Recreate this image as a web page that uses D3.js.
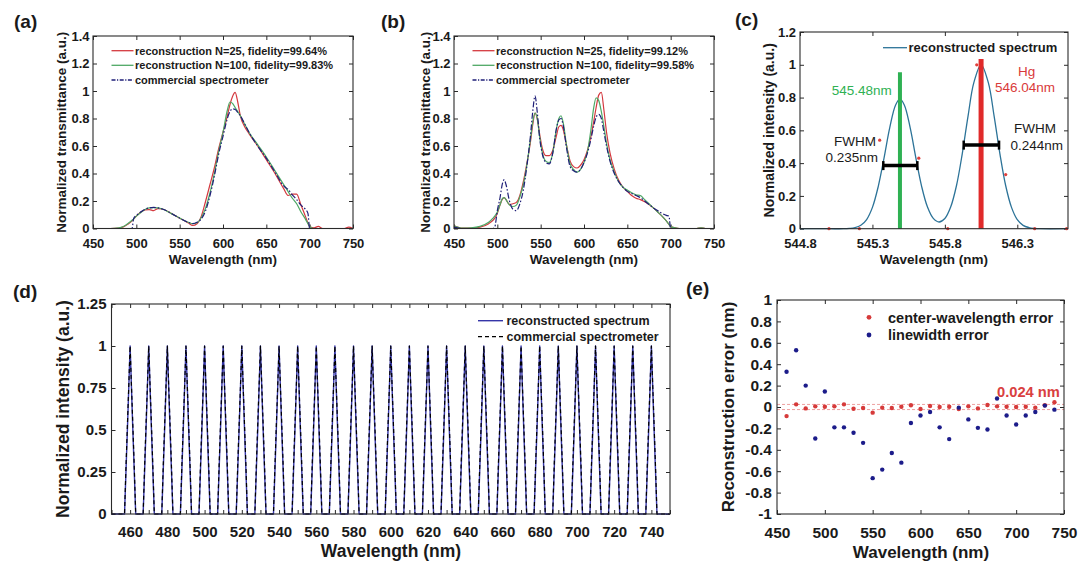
<!DOCTYPE html>
<html><head><meta charset="utf-8">
<script src="https://cdn.jsdelivr.net/npm/d3@7"></script>
<style>
html,body{margin:0;padding:0;background:#fff;}
svg{display:block;}
</style></head><body>
<script>
// ---------------- DATA ----------------
// Panel (a)
const aWave = [450,470,480,485,490,495,497,500,505,510,515,520,525,530,540,550,560,565,570,575,580,585,590,595,600,605,608,611,614,617,620,625,630,640,650,660,670,675,680,685,690,695,698,700,705,710,715,740,745,750];
const aRecon25 = [0,0,0.003,0.012,0.03,0.055,0.07,0.09,0.118,0.135,0.138,0.13,0.145,0.142,0.11,0.075,0.04,0.022,0.035,0.09,0.2,0.32,0.44,0.58,0.7,0.82,0.9,0.96,0.99,0.92,0.82,0.74,0.69,0.6,0.5,0.4,0.29,0.24,0.25,0.25,0.17,0.09,0.04,0.015,0.005,0.015,0,0,0.01,0];
const aRecon100 = [0,0,0.005,0.015,0.035,0.06,0.07,0.09,0.115,0.138,0.15,0.152,0.15,0.142,0.11,0.076,0.045,0.035,0.042,0.08,0.15,0.26,0.4,0.56,0.7,0.86,0.92,0.91,0.88,0.85,0.82,0.76,0.7,0.61,0.52,0.42,0.32,0.27,0.22,0.18,0.12,0.07,0.035,0.015,0,0,0,0,0,0];
const aComm = [0,0,0,0,0,0,0.075,0.095,0.12,0.14,0.15,0.153,0.15,0.142,0.112,0.075,0.045,0.036,0.045,0.07,0.13,0.24,0.38,0.54,0.67,0.8,0.85,0.87,0.865,0.845,0.82,0.76,0.7,0.6,0.51,0.41,0.31,0.285,0.245,0.21,0.17,0.14,0.11,0,0,0,0,0,0,0];
const aLegend = ["reconstruction N=25, fidelity=99.64%","reconstruction N=100, fidelity=99.83%","commercial spectrometer"];

// Panel (b)
const bWave = [450,460,470,480,490,495,497,500,503,506,508,510,514,518,522,526,530,534,538,541,543.5,546,549,552,556,560,564,568,571,573.5,576,580,584,588,592,596,600,604,608,611,614,617,620,623,626,630,635,640,645,650,655,660,665,670,675,680,685,690,695,698,700,705,710,730,735,740,750];
const bRecon25 = [0.02,0.003,0.003,0.01,0.035,0.06,0.075,0.11,0.17,0.215,0.225,0.21,0.175,0.18,0.19,0.24,0.34,0.47,0.62,0.76,0.84,0.8,0.68,0.58,0.53,0.53,0.57,0.67,0.74,0.75,0.72,0.6,0.49,0.45,0.44,0.46,0.5,0.57,0.67,0.77,0.88,0.97,0.99,0.86,0.7,0.55,0.43,0.35,0.3,0.27,0.24,0.22,0.21,0.195,0.175,0.15,0.12,0.09,0.055,0.03,0.015,0.005,0,0,0.005,0,0];
const bRecon100 = [0.02,0.003,0.005,0.015,0.045,0.075,0.09,0.12,0.17,0.22,0.225,0.21,0.17,0.16,0.17,0.23,0.32,0.46,0.64,0.78,0.84,0.8,0.66,0.55,0.49,0.48,0.55,0.72,0.8,0.82,0.77,0.6,0.47,0.43,0.41,0.43,0.48,0.56,0.72,0.87,0.95,0.93,0.85,0.74,0.62,0.5,0.41,0.34,0.3,0.28,0.26,0.245,0.24,0.21,0.18,0.15,0.12,0.09,0.055,0.03,0.015,0.005,0,0,0.005,0,0];
const bComm = [0.01,0,0,0,0,0,0.01,0.13,0.22,0.33,0.355,0.32,0.2,0.14,0.13,0.18,0.28,0.45,0.66,0.86,0.965,0.85,0.65,0.54,0.48,0.47,0.55,0.72,0.79,0.8,0.75,0.58,0.45,0.42,0.41,0.43,0.48,0.55,0.65,0.74,0.81,0.83,0.8,0.7,0.6,0.49,0.4,0.34,0.3,0.27,0.255,0.24,0.225,0.2,0.175,0.15,0.13,0.11,0.095,0.09,0,0,0,0,0,0,0];
const bLegend = ["reconstruction N=25, fidelity=99.12%","reconstruction N=100, fidelity=99.58%","commercial spectrometer"];

// Panel (c)
const cWave = [544.8,545.0,545.1,545.14,545.18,545.22,545.26,545.3,545.34,545.38,545.42,545.46,545.49,545.52,545.56,545.6,545.64,545.68,545.72,545.76,545.8,545.84,545.88,545.92,545.96,546.0,546.05,546.1,546.14,546.18,546.22,546.26,546.3,546.34,546.38,546.42,546.46,546.65];
const cCurve = [0,0,0,0.002,0.007,0.021,0.056,0.13,0.257,0.431,0.618,0.755,0.79,0.755,0.618,0.431,0.257,0.132,0.063,0.041,0.062,0.132,0.262,0.457,0.687,0.891,1.0,0.891,0.687,0.457,0.262,0.13,0.055,0.02,0.007,0.002,0,0];
const cDotWave = [545.0,545.21,545.35,545.62,545.82,546.02,546.22,546.42,546.64];
const cDotVal  = [0,0,0.54,0.43,0,1.0,0.33,0,0];
const cLineWave = [545.49,546.05];
const cLineTop = [0.955,1.035];
const cFwhmFrom = [545.375,545.93];
const cFwhmTo = [545.61,546.174];
const cFwhmLevel = [0.385,0.51];
const cLabels = ["545.48nm","Hg","546.04nm","FWHM","0.235nm","FWHM","0.244nm"];

// Panel (d)
const dCenters = [460,470,480,490,500,510,520,530,540,550,560,570,580,590,600,610,620,630,640,650,660,670,680,690,700,710,720,730,740];
const dOffsets = [-3,-2.2,-1.4,-0.7,0,0.7,1.4,2.2,3];
const dRecon = [0,0.26,0.52,0.76,1,0.76,0.52,0.26,0];
const dComm  = [0,0.29,0.55,0.77,1,0.77,0.55,0.29,0];

// Panel (e)
const eWave = [460,470,480,490,500,510,520,530,540,550,560,570,580,590,600,610,620,630,640,650,660,670,680,690,700,710,720,730,740];
const eCenterErr = [-0.085,0.025,-0.013,0.006,0.003,0.006,0.025,-0.016,-0.01,-0.053,-0.006,-0.01,0.003,0.016,-0.019,0.01,0,0.003,-0.019,0.006,-0.013,0.019,0.006,0.003,0,0.003,-0.006,0.016,0.044];
const eWidthErr = [0.33,0.53,0.2,-0.295,0.145,-0.19,-0.19,-0.24,-0.335,-0.665,-0.585,-0.43,-0.52,-0.15,-0.08,-0.047,-0.19,-0.3,-0.006,-0.116,-0.195,-0.21,0.08,-0.08,-0.163,-0.08,-0.047,0.013,-0.025];
const eThreshold = [0.024,-0.024];

// ticks
const xTicks50 = [450,500,550,600,650,700,750];
const yTicksAB = [0,0.2,0.4,0.6,0.8,1,1.2,1.4];
const cXTicks = [544.8,545.3,545.8,546.3];
const cYTicks = [0,0.2,0.4,0.6,0.8,1,1.2];
const dXTicks = [450,460,470,480,490,500,510,520,530,540,550,560,570,580,590,600,610,620,630,640,650,660,670,680,690,700,710,720,730,740,750];
const dXLabels = [460,480,500,520,540,560,580,600,620,640,660,680,700,720,740];
const dYTicks = [0,0.25,0.5,0.75,1,1.25];
const eYTicks = [-1,-0.8,-0.6,-0.4,-0.2,0,0.2,0.4,0.6,0.8,1];

// ---------------- DRAWING ----------------
const FONT = '"Liberation Sans", Arial, Helvetica, sans-serif';
const FR = "#2a2a2a";
const RED = "#d4393f", GREEN = "#4ea865", NAVY = "#1f1f78";
const svg = d3.select("body").append("svg").attr("width",1080).attr("height",564).style("font-family",FONT);
svg.append("rect").attr("width",1080).attr("height",564).attr("fill","#fff");

const fmt = d => String(+d.toFixed(3));

function txt(x,y,s,o={}){
  const t = svg.append("text").attr("x",x).attr("y",y).text(s)
    .attr("font-size",o.fs||14).attr("font-weight",o.fw||"bold")
    .attr("fill",o.fill||"#1a1a1a").attr("text-anchor",o.anchor||"start")
    .style("font-family",FONT);
  if(o.rot) t.attr("transform",`rotate(-90,${x},${y})`);
  return t;
}

function panel(p){
  const x = d3.scaleLinear().domain(p.xd).range([p.L,p.R]);
  const y = d3.scaleLinear().domain(p.yd).range([p.B,p.T]);
  const g = svg.append("g");
  const tl = 4;
  const xl = p.xl || p.xt;
  g.append("g").attr("transform",`translate(0,${p.B})`)
    .call(d3.axisBottom(x).tickValues(p.xt).tickSizeInner(-tl).tickSizeOuter(0).tickPadding(p.xpad)
      .tickFormat(d => xl.includes(d) ? fmt(d) : ""));
  g.append("g").attr("transform",`translate(0,${p.T})`)
    .call(d3.axisTop(x).tickValues(p.xt).tickSizeInner(-tl).tickSizeOuter(0).tickFormat(""));
  g.append("g").attr("transform",`translate(${p.L},0)`)
    .call(d3.axisLeft(y).tickValues(p.yt).tickSizeInner(-tl).tickSizeOuter(0).tickPadding(p.ypad).tickFormat(fmt));
  g.append("g").attr("transform",`translate(${p.R},0)`)
    .call(d3.axisRight(y).tickValues(p.yt).tickSizeInner(-tl).tickSizeOuter(0).tickFormat(""));
  g.selectAll(".domain").remove();
  g.selectAll(".tick line").attr("stroke",FR).attr("stroke-width",1);
  g.selectAll(".tick text").attr("fill","#1a1a1a").style("font-weight","bold")
    .style("font-size",p.fs+"px").style("font-family",FONT);
  const data = svg.append("g");
  const frame = () => svg.append("rect").attr("x",p.L).attr("y",p.T).attr("width",p.R-p.L).attr("height",p.B-p.T)
    .attr("fill","none").attr("stroke",FR).attr("stroke-width",1.1);
  return {x,y,g:data,frame};
}

function drawLine(P, xs, ys, color, width, dash, curve){
  const ln = d3.line().x(i=>P.x(xs[i])).y(i=>P.y(ys[i])).curve(curve||d3.curveMonotoneX);
  P.g.append("path").attr("d",ln(d3.range(xs.length))).attr("fill","none")
    .attr("stroke",color).attr("stroke-width",width).attr("stroke-dasharray",dash||null)
    .attr("stroke-linejoin","round");
}

// ---- (a) and (b) ----
function specPanel(L,R,wave,r25,r100,comm,legend,label,labelX,yTitleX){
  const P = panel({L,R,T:36,B:228.5,xd:[450,750],yd:[0,1.4],xt:xTicks50,yt:yTicksAB,fs:13,xpad:10.3,ypad:3.5});
  drawLine(P,wave,r25,RED,1.2);
  drawLine(P,wave,r100,GREEN,1.2);
  drawLine(P,wave,comm,NAVY,1.2,"6,2,1.5,2");
  P.frame();
  const cols=[RED,GREEN,NAVY], dashes=[null,null,"4,1.5,1.2,1.5"], rows=[50.7,65.3,80];
  legend.forEach((s,i)=>{
    svg.append("line").attr("x1",L+18.5).attr("x2",L+40.5).attr("y1",rows[i]).attr("y2",rows[i])
      .attr("stroke",cols[i]).attr("stroke-width",1.3).attr("stroke-dasharray",dashes[i]);
    txt(L+42,rows[i]+3.9,s,{fs:11});
  });
  txt(labelX,28,label,{fs:19});
  txt((L+R)/2,263.5,"Wavelength (nm)",{fs:13.5,anchor:"middle"});
  txt(yTitleX,132.3,"Normalized transmittance (a.u.)",{fs:13.5,anchor:"middle",rot:true});
}
specPanel(93,353,aWave,aRecon25,aRecon100,aComm,aLegend,"(a)",14,66.5);
specPanel(454,714,bWave,bRecon25,bRecon100,bComm,bLegend,"(b)",381,430.5);

// ---- (c) ----
(function(){
  const P = panel({L:800,R:1068,T:32,B:228.7,xd:[544.8,546.65],yd:[0,1.2],xt:cXTicks,yt:cYTicks,fs:13,xpad:10.1,ypad:4});
  drawLine(P,cWave,cCurve,"#2c7398",1.3,null,d3.curveCatmullRom);
  const barCols=["#2fb153","#e02a2a"], barW=[4,5];
  cLineWave.forEach((w,i)=>{
    P.g.append("line").attr("x1",P.x(w)).attr("x2",P.x(w)).attr("y1",P.y(0)).attr("y2",P.y(cLineTop[i]))
      .attr("stroke",barCols[i]).attr("stroke-width",barW[i]);
  });
  cDotWave.forEach((w,i)=>{
    P.g.append("circle").attr("cx",P.x(w)).attr("cy",P.y(cDotVal[i])).attr("r",1.6).attr("fill","#e0403c");
  });
  cFwhmFrom.forEach((a,i)=>{
    const yy=P.y(cFwhmLevel[i]);
    P.g.append("line").attr("x1",P.x(a)).attr("x2",P.x(cFwhmTo[i])).attr("y1",yy).attr("y2",yy).attr("stroke","#000").attr("stroke-width",3.5);
    [a,cFwhmTo[i]].forEach(v=>P.g.append("line").attr("x1",P.x(v)).attr("x2",P.x(v)).attr("y1",yy-4.5).attr("y2",yy+4.5).attr("stroke","#000").attr("stroke-width",2.5));
  });
  P.frame();
  svg.append("line").attr("x1",883).attr("x2",907).attr("y1",47.7).attr("y2",47.7).attr("stroke","#2c7398").attr("stroke-width",1.3);
  txt(908.5,52.2,"reconstructed spectrum",{fs:13});
  txt(861.7,95,cLabels[0],{fs:13.5,fw:"normal",fill:"#2fb153",anchor:"middle"});
  txt(1026.7,76,cLabels[1],{fs:13.5,fw:"normal",fill:"#d93a3a",anchor:"middle"});
  txt(1025,91.7,cLabels[2],{fs:13.5,fw:"normal",fill:"#d93a3a",anchor:"middle"});
  txt(855,145.7,cLabels[3],{fs:13.5,fw:"normal",anchor:"middle"});
  txt(851.7,161.7,cLabels[4],{fs:13.5,fw:"normal",anchor:"middle"});
  txt(1035,132.7,cLabels[5],{fs:13.5,fw:"normal",anchor:"middle"});
  txt(1036.7,150,cLabels[6],{fs:13.5,fw:"normal",anchor:"middle"});
  txt(735,26,"(c)",{fs:19});
  txt(934,263.5,"Wavelength (nm)",{fs:13.5,anchor:"middle"});
  txt(774,130.3,"Normalized intensity (a.u.)",{fs:14,anchor:"middle",rot:true});
})();

// ---- (d) ----
(function(){
  const P = panel({L:111.5,R:670,T:304,B:514,xd:[450,750],yd:[0,1.25],xt:dXTicks,xl:dXLabels,yt:dYTicks,fs:15,xpad:12.3,ypad:5});
  function series(profile){
    const xs=[450], ys=[0];
    dCenters.forEach(c=>dOffsets.forEach((o,j)=>{xs.push(c+o); ys.push(profile[j]);}));
    xs.push(750); ys.push(0);
    return [xs,ys];
  }
  const [rx,ry]=series(dRecon), [cx,cy]=series(dComm);
  drawLine(P,rx,ry,"#3535a8",1.4,null,d3.curveLinear);
  drawLine(P,cx,cy,"#000",1.2,"4,3",d3.curveLinear);
  P.frame();
  svg.append("line").attr("x1",478).attr("x2",503).attr("y1",320.7).attr("y2",320.7).attr("stroke","#3535a8").attr("stroke-width",1.4);
  svg.append("line").attr("x1",478).attr("x2",503).attr("y1",336.7).attr("y2",336.7).attr("stroke","#000").attr("stroke-width",1.2).attr("stroke-dasharray","4,3");
  txt(506.5,325,"reconstructed spectrum",{fs:12.5});
  txt(506.5,341,"commercial spectrometer",{fs:12.5});
  txt(13,298,"(d)",{fs:19});
  txt(391,557,"Wavelength (nm)",{fs:17.5,anchor:"middle"});
  txt(69,409,"Normalized intensity (a.u.)",{fs:17.5,anchor:"middle",rot:true});
})();

// ---- (e) ----
(function(){
  const P = panel({L:777,R:1064,T:300,B:514,xd:[450,750],yd:[-1,1],xt:xTicks50,yt:eYTicks,fs:15.5,xpad:13,ypad:5});
  eThreshold.forEach(v=>{
    P.g.append("line").attr("x1",P.x(450)).attr("x2",P.x(750)).attr("y1",P.y(v)).attr("y2",P.y(v))
      .attr("stroke","#eea0a0").attr("stroke-width",1).attr("stroke-dasharray","3,2");
  });
  eWave.forEach((w,i)=>{
    P.g.append("circle").attr("cx",P.x(w)).attr("cy",P.y(eCenterErr[i])).attr("r",2.2).attr("fill","#d63a3a");
    P.g.append("circle").attr("cx",P.x(w)).attr("cy",P.y(eWidthErr[i])).attr("r",2.2).attr("fill","#1c1c8a");
  });
  P.frame();
  svg.append("circle").attr("cx",869).attr("cy",317.3).attr("r",2.4).attr("fill","#d63a3a");
  svg.append("circle").attr("cx",869).attr("cy",335).attr("r",2.4).attr("fill","#1c1c8a");
  txt(888,322.5,"center-wavelength error",{fs:14.5});
  txt(888,340.2,"linewidth error",{fs:14.5});
  txt(997,396.5,"0.024 nm",{fs:14.7,fill:"#d94040"});
  txt(686,295,"(e)",{fs:19});
  txt(921,558,"Wavelength (nm)",{fs:17,anchor:"middle"});
  txt(734,407,"Reconstruction error (nm)",{fs:17,anchor:"middle",rot:true});
})();
</script>
</body></html>
